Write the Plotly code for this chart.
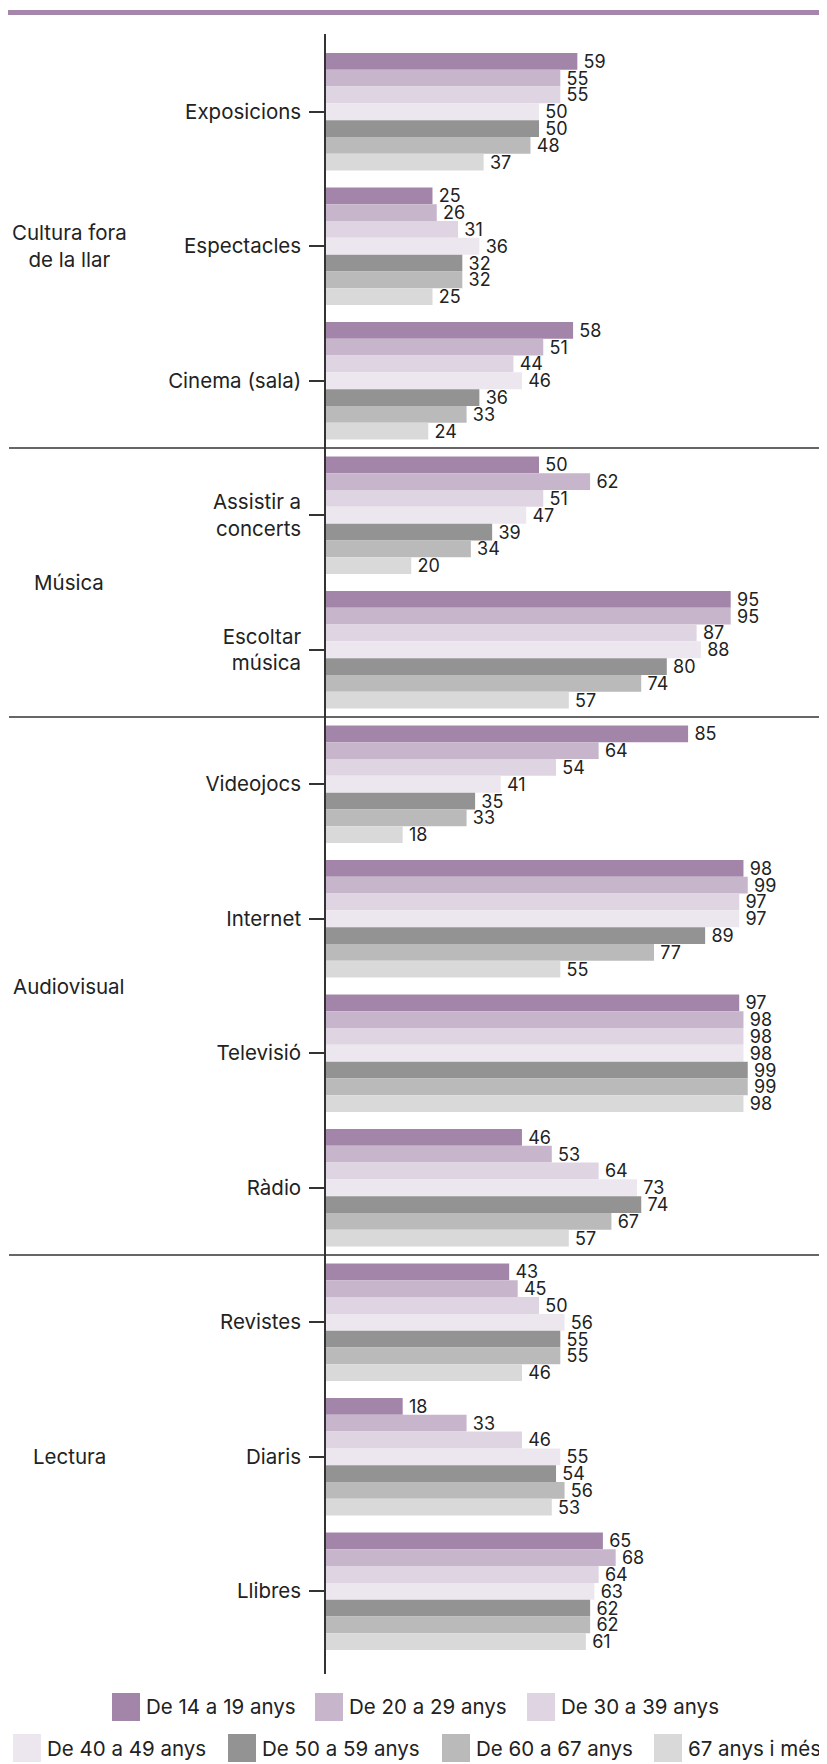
import plotly.graph_objects as go

# activitats (de dalt a baix)
activitats = [
    "Exposicions", "Espectacles", "Cinema (sala)",
    "Assistir a<br>concerts", "Escoltar<br>música",
    "Videojocs", "Internet", "Televisió", "Ràdio",
    "Revistes", "Diaris", "Llibres",
]
blocs = ["Cultura fora<br>de la llar", "Música", "Audiovisual", "Lectura"]
bloc_pos = [1, 3.5, 6.5, 10]
separadors = [2.5, 4.5, 8.5]

edats = [
    "De 14 a 19 anys", "De 20 a 29 anys", "De 30 a 39 anys",
    "De 40 a 49 anys", "De 50 a 59 anys", "De 60 a 67 anys", "67 anys i més",
]
v_14_19 = [59, 25, 58, 50, 95, 85, 98, 97, 46, 43, 18, 65]
v_20_29 = [55, 26, 51, 62, 95, 64, 99, 98, 53, 45, 33, 68]
v_30_39 = [55, 31, 44, 51, 87, 54, 97, 98, 64, 50, 46, 64]
v_40_49 = [50, 36, 46, 47, 88, 41, 97, 98, 73, 56, 55, 63]
v_50_59 = [50, 32, 36, 39, 80, 35, 89, 99, 74, 55, 54, 62]
v_60_67 = [48, 32, 33, 34, 74, 33, 77, 99, 67, 55, 56, 62]
v_67_mes = [37, 25, 24, 20, 57, 18, 55, 98, 57, 46, 53, 61]
series = [v_14_19, v_20_29, v_30_39, v_40_49, v_50_59, v_60_67, v_67_mes]

colors = ["#A485AA", "#C7B5CB", "#DFD4E2", "#ECE7EE", "#939393", "#BABABA", "#D9D9D9"]

FONT = "Inter, Roboto, sans-serif"
TXT = "#222222"
LBL = 20.5

# la pàgina té 8 px de marge; coordenades de pàgina -> figura
OFF = 8
L, T, B = 318, 26, 90
PW, PH = 501, 1640
W, H = L + PW, T + PH + B


def px_x(p):
    return (p - OFF - L) / PW


def px_y(p):
    return (T + PH - (p - OFF)) / PH


ys = list(range(len(activitats)))

fig = go.Figure()
for nom, vals, col in zip(edats, series, colors):
    fig.add_trace(go.Bar(
        y=ys, x=vals, name=nom, orientation="h",
        marker=dict(color=col, line=dict(width=0)),
        text=vals, texttemplate="\u2009%{text}", textposition="outside",
        constraintext="none",
        textfont=dict(size=18, color=TXT, family=FONT),
        cliponaxis=False, showlegend=False,
    ))

shapes = []
# línia superior
shapes.append(dict(type="line", xref="paper", yref="paper",
                   x0=px_x(8), x1=1, y0=px_y(12.5), y1=px_y(12.5),
                   line=dict(color="#A587AB", width=5)))
for s in separadors:
    shapes.append(dict(type="line", xref="paper", yref="y",
                       x0=px_x(9), x1=1, y0=s, y1=s,
                       line=dict(color="#333333", width=1.5)))

annotations = []
for b, p in zip(blocs, bloc_pos):
    annotations.append(dict(text=b, xref="paper", yref="y", x=px_x(69), y=p,
                            xanchor="center", yanchor="middle", align="center",
                            showarrow=False, font=dict(size=LBL, color=TXT, family=FONT)))

# llegenda manual
leg_x = [112, 315, 527, 13, 228, 442, 654]
leg_y = [1707, 1707, 1707, 1748, 1748, 1748, 1748]
sw = 28
for nom, col, lx, ly in zip(edats, colors, leg_x, leg_y):
    shapes.append(dict(type="rect", xref="paper", yref="paper",
                       x0=px_x(lx), x1=px_x(lx + sw),
                       y0=px_y(ly - sw / 2), y1=px_y(ly + sw / 2),
                       fillcolor=col, line=dict(width=0)))
    annotations.append(dict(text=nom, xref="paper", yref="paper",
                            x=px_x(lx + sw + 4), y=px_y(ly),
                            xanchor="left", yanchor="middle", showarrow=False,
                            font=dict(size=LBL, color=TXT, family=FONT)))

fig.update_layout(
    width=W, height=H,
    margin=dict(l=L, r=0, t=T, b=B),
    paper_bgcolor="white", plot_bgcolor="white",
    barmode="group", bargap=0.126, bargroupgap=0,
    font=dict(family=FONT, color=TXT),
    shapes=shapes, annotations=annotations,
    showlegend=False,
    xaxis=dict(range=[0, PW / 4.26], visible=False, showgrid=False, zeroline=False),
    yaxis=dict(
        range=[11.615, -0.578], tickvals=ys, ticktext=activitats,
        ticks="outside", ticklen=15, tickwidth=1.5, tickcolor="#333333",
        showline=True, linecolor="#333333", linewidth=1.5,
        showgrid=False, zeroline=False, ticklabelstandoff=4,
        tickfont=dict(size=LBL, color=TXT, family=FONT),
    ),
)

fig.write_html("out.html")
